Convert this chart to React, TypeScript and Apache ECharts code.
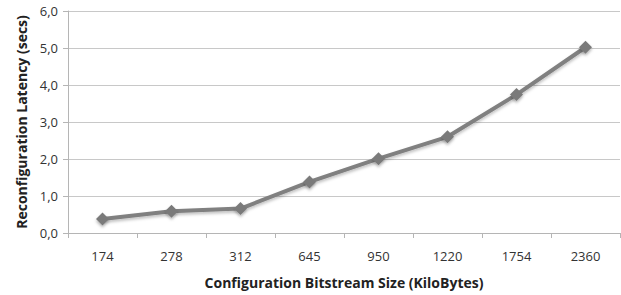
import React, { useEffect, useRef } from "react";
import * as echarts from "echarts";

const categories = ["174", "278", "312", "645", "950", "1220", "1754", "2360"];
const latency = [0.38, 0.59, 0.66, 1.38, 2.01, 2.6, 3.74, 5.02];
const xTitle = "Configuration Bitstream Size (KiloBytes)";
const yTitle = "Reconfiguration Latency (secs)";

export default function App() {
  const ref = useRef<HTMLDivElement>(null);
  useEffect(() => {
    const chart = echarts.init(ref.current!, null, { renderer: "svg" });
    const font = "'Open Sans', 'Liberation Sans', sans-serif";
    chart.setOption({
      animation: false,
      backgroundColor: "#ffffff",
      textStyle: { fontFamily: font },
      grid: { left: 68, right: 1, top: 11, bottom: 62 },
      xAxis: {
        type: "category",
        data: categories,
        boundaryGap: true,
        name: xTitle,
        nameLocation: "middle",
        nameGap: 42,
        nameTextStyle: { fontSize: 14, fontWeight: "bold", color: "#222", fontFamily: font },
        axisLine: { lineStyle: { color: "#b5b5b5", width: 1 } },
        axisTick: { show: true, length: 5, lineStyle: { color: "#b5b5b5" } },
        axisLabel: { fontSize: 13, color: "#333", margin: 16, fontFamily: font },
      },
      yAxis: {
        type: "value",
        min: 0,
        max: 6,
        interval: 1,
        name: yTitle,
        nameLocation: "middle",
        nameGap: 40,
        nameRotate: 90,
        nameTextStyle: { fontSize: 14, fontWeight: "bold", color: "#222", fontFamily: font },
        axisLine: { show: true, lineStyle: { color: "#b5b5b5", width: 1 } },
        axisTick: { show: true, length: 5, lineStyle: { color: "#b5b5b5" } },
        axisLabel: {
          fontSize: 13,
          color: "#333",
          margin: 10,
          fontFamily: font,
          formatter: (v: number) => v.toFixed(1).replace(".", ","),
        },
        splitLine: { lineStyle: { color: "#c8c8c8", width: 1 } },
      },
      series: [
        {
          type: "line",
          data: latency,
          symbol: "diamond",
          symbolSize: 13,
          lineStyle: { color: "#808080", width: 4, shadowColor: "rgba(0,0,0,0.25)", shadowBlur: 3, shadowOffsetY: 2 },
          itemStyle: { color: "#7a7a7a", shadowColor: "rgba(0,0,0,0.3)", shadowBlur: 3, shadowOffsetY: 2 },
        },
      ],
    });
    return () => chart.dispose();
  }, []);
  return <div ref={ref} style={{ width: 621, height: 295, position: "absolute", left: 0, top: 0 }} />;
}
